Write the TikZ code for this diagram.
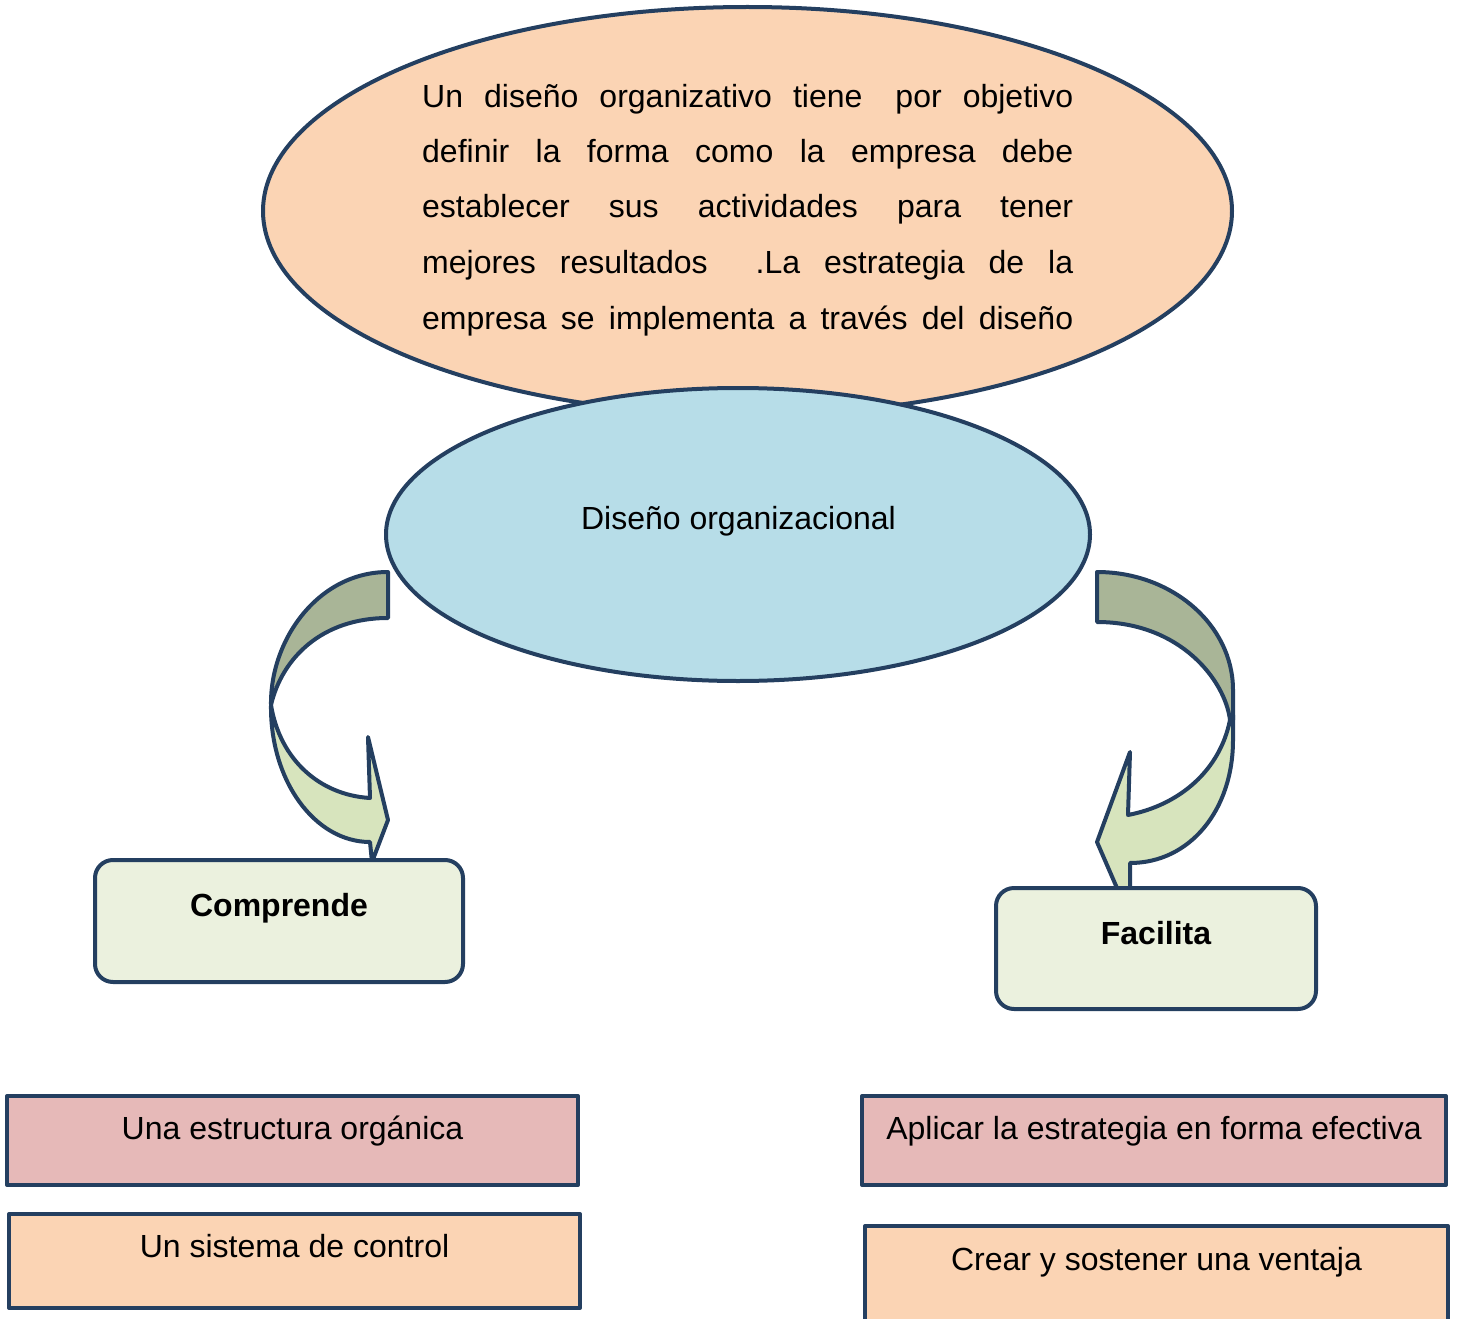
\documentclass[tikz,border=0pt]{standalone}
\usepackage{fontspec}
\setmainfont{Liberation Sans}
\usetikzlibrary{shapes.geometric}
\definecolor{navy}{HTML}{243F60}
\definecolor{peach}{HTML}{FBD4B4}
\definecolor{skyb}{HTML}{B7DDE8}
\definecolor{darkgr}{HTML}{A9B597}
\definecolor{lightgr}{HTML}{D7E4BD}
\definecolor{paleg}{HTML}{EBF1DE}
\definecolor{pinkb}{HTML}{E6B9B8}
\begin{document}
\begin{tikzpicture}[x=1pt,y=-1pt,
  outl/.style={draw=navy,line width=4pt,line join=round},
  ell/.style={outl,ellipse,inner sep=0pt},
  txt/.style={font=\fontsize{32}{38}\selectfont,inner sep=0pt},
  rbox/.style={outl,rounded corners=18pt,fill=paleg,inner sep=0pt,font=\fontsize{32}{38}\selectfont\bfseries},
  sbox/.style={outl,inner sep=0pt,font=\fontsize{32}{38}\selectfont},
  line/.style={txt,anchor=base west}]
\useasboundingbox (0,0) rectangle (1457,1319);
% top ellipse
\node[ell,fill=peach,minimum width=969pt,minimum height=408pt] (top) at (747.5,211) {};
\node[line] (t1) at (422,108) {\makebox[651pt][s]{Un diseño organizativo tiene\hspace{12pt} por objetivo}};
\node[line] (t2) at (422,163) {\makebox[651pt][s]{definir la forma como la empresa debe}};
\node[line] (t3) at (422,218) {\makebox[651pt][s]{establecer sus actividades para tener}};
\node[line] (t4) at (422,273) {\makebox[651pt][s]{mejores resultados\hspace{24pt} .La estrategia de la}};
\node[line] (t5) at (422,329) {\makebox[651pt][s]{empresa se implementa a través del diseño}};
% left curved arrow
\filldraw[outl,fill=darkgr] (388,572) -- (388,618) .. controls (322,618) and (282,658) .. (271,705)
  .. controls (270,640) and (318,572) .. (388,572) -- cycle;
\filldraw[outl,fill=lightgr] (271,705) .. controls (270,781) and (315,842) .. (370,842)
  -- (372,862) -- (388,820) -- (368,737) -- (370,798)
  .. controls (320,795) and (280,760) .. (271,705) -- cycle;
% right curved arrow
\filldraw[outl,fill=darkgr] (1097,572) .. controls (1172,572) and (1233,625) .. (1233,690)
  -- (1233,720) -- (1230,720) .. controls (1225,680) and (1180,622) .. (1097,622) -- cycle;
\filldraw[outl,fill=lightgr] (1233,715) -- (1233,740) .. controls (1233,810) and (1190,863) .. (1130,863)
  -- (1130,918) -- (1097,842) -- (1130,752) -- (1128,815)
  .. controls (1180,805) and (1220,770) .. (1230,720) -- cycle;
% center ellipse
\node[ell,fill=skyb,minimum width=704pt,minimum height=293pt] (dis) at (738,534.5) {};
\node[txt,anchor=base] (dislab) at (738.5,529) {Diseño organizacional};
% rounded boxes
\node[rbox,anchor=base,minimum width=368pt,text height=56pt,text depth=66pt] (comp) at (279,916) {Comprende};
\node[rbox,anchor=base,minimum width=320pt,text height=56pt,text depth=65pt] (fac) at (1156,944) {Facilita};
% bottom boxes
\node[sbox,fill=pinkb,anchor=base,minimum width=571pt,text height=43pt,text depth=46pt] (b1) at (292.5,1139) {Una estructura orgánica};
\node[sbox,fill=peach,anchor=base,minimum width=571pt,text height=43pt,text depth=51pt] (b2) at (294.5,1257) {Un sistema de control};
\node[sbox,fill=pinkb,anchor=base,minimum width=584pt,text height=43pt,text depth=46pt] (b3) at (1154,1139) {Aplicar la estrategia en forma efectiva};
\node[sbox,fill=peach,anchor=base,minimum width=583pt,text height=44pt,text depth=80pt] (b4) at (1156.5,1270) {Crear y sostener una ventaja};
\end{tikzpicture}
\end{document}
